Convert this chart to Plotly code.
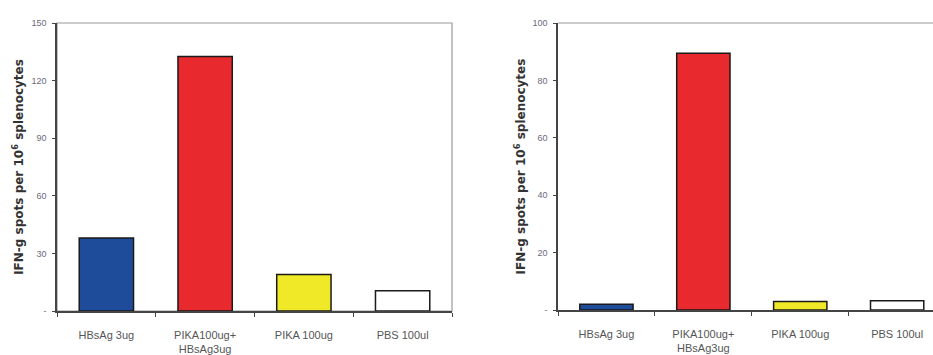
import plotly.graph_objects as go

categories = ["HBsAg 3ug", "PIKA100ug+<br>HBsAg3ug", "PIKA 100ug", "PBS 100ul"]
left_values = [38, 132.5, 19, 10.5]
right_values = [2, 89.5, 3, 3.2]
bar_colors = ["#1f4b9b", "#e8292d", "#efe928", "#ffffff"]
left_ticks = [0, 30, 60, 90, 120, 150]
left_ticklabels = ["-", "30", "60", "90", "120", "150"]
right_ticks = [0, 20, 40, 60, 80, 100]
right_ticklabels = ["-", "20", "40", "60", "80", "100"]
ytitle = "IFN-g spots per 10<sup>6</sup> splenocytes"

W, H = 933, 355


def px_x(x):
    return x / W


def px_y(y):
    return 1 - y / H


fig = go.Figure()
fig.add_trace(go.Bar(x=categories, y=left_values, marker=dict(color=bar_colors, line=dict(color="#1a1a1a", width=1.5)),
                     width=0.55, xaxis="x", yaxis="y", showlegend=False))
fig.add_trace(go.Bar(x=categories, y=right_values, marker=dict(color=bar_colors, line=dict(color="#1a1a1a", width=1.5)),
                     width=0.55, xaxis="x2", yaxis="y2", showlegend=False))

font_tick = dict(family="Liberation Sans Narrow, Liberation Sans, Arial", size=9, color="#6a6a7a")
font_cat = dict(family="Liberation Sans Narrow, Liberation Sans, Arial", size=11, color="#555555")
font_title = dict(family="DejaVu Sans, Arial", size=12, color="#333333")

common_x = dict(type="category", showline=True, linecolor="#444444", linewidth=1.5, ticks="outside",
                tickson="boundaries", ticklen=4, tickcolor="#444444", tickfont=font_cat, showgrid=False,
                automargin=False, ticklabelstandoff=13)
common_y = dict(showline=True, linecolor="#444444", linewidth=1.5, ticks="outside", ticklen=3,
                tickcolor="#444444", tickfont=font_tick, showgrid=False, zeroline=False,
                automargin=False, ticklabelstandoff=4)

fig.update_layout(
    width=W, height=H,
    margin=dict(l=0, r=0, t=0, b=0),
    paper_bgcolor="white", plot_bgcolor="white",
    xaxis=dict(domain=[px_x(57), px_x(452)], range=[-0.5, 3.5], anchor="y", **common_x),
    yaxis=dict(domain=[px_y(311), px_y(23)], range=[0, 150], tickvals=left_ticks, ticktext=left_ticklabels,
               anchor="x", title=dict(text="<b>" + ytitle + "</b>", font=font_title, standoff=5), **common_y),
    xaxis2=dict(domain=[px_x(558), 1.0], range=[-0.5, 3.37], anchor="y2", **common_x),
    yaxis2=dict(domain=[px_y(310), px_y(23)], range=[0, 100], tickvals=right_ticks, ticktext=right_ticklabels,
                anchor="x2", title=dict(text="<b>" + ytitle + "</b>", font=font_title, standoff=4), **common_y),
    bargap=0.45,
    shapes=[
        dict(type="rect", xref="x domain", yref="y domain", x0=0, x1=1, y0=0, y1=1,
             line=dict(color="#9a9a9a", width=1.2), layer="below"),
        dict(type="line", xref="x2 domain", yref="y2 domain", x0=0, x1=1, y0=1, y1=1,
             line=dict(color="#9a9a9a", width=1.2), layer="below"),
    ],
)

fig.write_html("out.html", config={"displayModeBar": False},
               post_script="document.body.style.margin='0';document.body.style.overflow='hidden';")
